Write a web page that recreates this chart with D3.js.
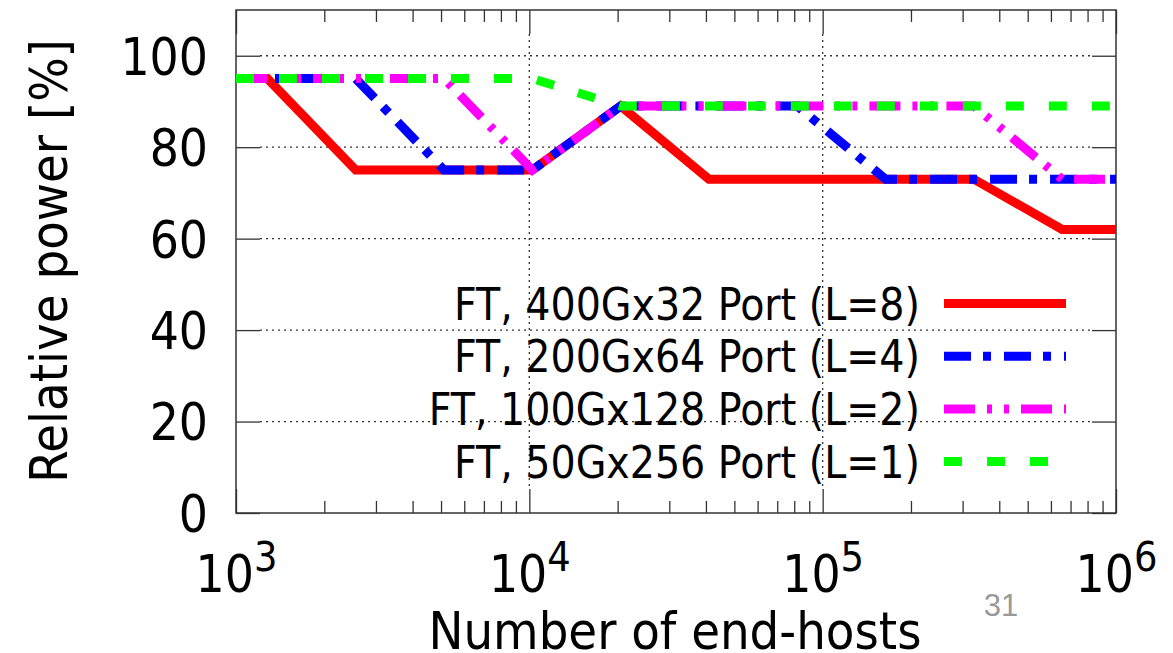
<!DOCTYPE html>
<html>
<head>
<meta charset="utf-8">
<script src="https://cdn.jsdelivr.net/npm/d3@7"></script>
<style>
  html, body { margin: 0; padding: 0; background: #fff; }
  svg text { font-family: "DejaVu Sans Condensed", "DejaVu Sans", sans-serif; font-stretch: condensed; fill: #000; }
  .axis path.domain { display: none; }
  .axis line { stroke: #333; stroke-width: 1.3; }
  .grid line { stroke: #333; stroke-width: 1.3; stroke-dasharray: 2, 4; }
</style>
</head>
<body>
<div class="chart"></div>
<script>
const WIDTH = 1173;
const HEIGHT = 653;
const LEFT = 236, RIGHT = 1116, TOP = 10, BOTTOM = 513;

// Number of end-hosts for each series
const RED_X = [1000, 1280, 2560, 10240, 20480, 40960, 327680, 655360, 1000000];
const RED_Y = [95, 95, 75, 75, 89, 73, 73, 62, 62];
const BLUE_X = [1000, 2560, 5120, 10240, 20480, 81920, 163840, 1000000];
const BLUE_Y = [95, 95, 75, 75, 89, 89, 73, 73];
const MAGENTA_X = [1000, 5120, 10240, 20480, 327680, 655360, 1000000];
const MAGENTA_Y = [95, 95, 75, 89, 89, 73, 73];
const GREEN_X = [1000, 10240, 20480, 1000000];
const GREEN_Y = [95, 95, 89, 89];

const LABELS = [
  "FT, 400Gx32 Port (L=8)",
  "FT, 200Gx64 Port (L=4)",
  "FT, 100Gx128 Port (L=2)",
  "FT, 50Gx256 Port (L=1)"
];
const X_TICKS = [1e3, 1e4, 1e5, 1e6];
const Y_TICKS = [0, 20, 40, 60, 80, 100];

const series = [
  { label: LABELS[0], xs: RED_X, ys: RED_Y, color: "#ff0000", dash: null },
  { label: LABELS[1], xs: BLUE_X, ys: BLUE_Y, color: "#0000ff", dash: "27,12,8,13" },
  { label: LABELS[2], xs: MAGENTA_X, ys: MAGENTA_Y, color: "#ff00ff", dash: "31,12,5,12,5,12" },
  { label: LABELS[3], xs: GREEN_X, ys: GREEN_Y, color: "#00ff00", dash: "18,25" }
];

const svg = d3.select(".chart").append("svg")
  .attr("width", WIDTH)
  .attr("height", HEIGHT);

svg.append("rect").attr("width", WIDTH).attr("height", HEIGHT).attr("fill", "#fff");

const xScale = d3.scaleLog().domain([1e3, 1e6]).range([LEFT, RIGHT]);
const yScale = d3.scaleLinear().domain([0, 110]).range([BOTTOM, TOP]);

// minor log ticks 2..9 x 10^k
const minorTicks = [];
for (let k = 3; k < 6; k++) {
  for (let m = 2; m < 10; m++) minorTicks.push(m * Math.pow(10, k));
}

const MAJOR = 24, MINOR = 12;

// Grid
svg.append("g").attr("class", "grid")
  .selectAll("line").data(Y_TICKS.slice(1)).enter().append("line")
  .attr("x1", LEFT + MAJOR).attr("x2", RIGHT - MAJOR)
  .attr("y1", d => yScale(d)).attr("y2", d => yScale(d));

svg.append("g").attr("class", "grid")
  .selectAll("line").data([1e4, 1e5]).enter().append("line")
  .attr("x1", d => xScale(d)).attr("x2", d => xScale(d))
  .attr("y1", TOP + MAJOR).attr("y2", BOTTOM - MAJOR);

// Ticks on all four sides
svg.append("g").attr("class", "axis")
  .attr("transform", `translate(${LEFT}, 0)`)
  .call(d3.axisRight(yScale).tickValues(Y_TICKS).tickSize(MAJOR).tickFormat(""));
svg.append("g").attr("class", "axis")
  .attr("transform", `translate(${RIGHT}, 0)`)
  .call(d3.axisLeft(yScale).tickValues(Y_TICKS).tickSize(MAJOR).tickFormat(""));
svg.append("g").attr("class", "axis")
  .attr("transform", `translate(0, ${BOTTOM})`)
  .call(d3.axisTop(xScale).tickValues(X_TICKS).tickSize(MAJOR).tickFormat(""));
svg.append("g").attr("class", "axis")
  .attr("transform", `translate(0, ${BOTTOM})`)
  .call(d3.axisTop(xScale).tickValues(minorTicks).tickSize(MINOR).tickFormat(""));
svg.append("g").attr("class", "axis")
  .attr("transform", `translate(0, ${TOP})`)
  .call(d3.axisBottom(xScale).tickValues(X_TICKS).tickSize(MAJOR).tickFormat(""));
svg.append("g").attr("class", "axis")
  .attr("transform", `translate(0, ${TOP})`)
  .call(d3.axisBottom(xScale).tickValues(minorTicks).tickSize(MINOR).tickFormat(""));

// Y tick labels
const yLabels = svg.append("g").attr("class", "axis")
  .attr("transform", `translate(${LEFT}, 0)`)
  .call(d3.axisLeft(yScale).tickValues(Y_TICKS).tickSize(0).tickPadding(28));
yLabels.selectAll("text")
  .attr("font-size", 51)
  .attr("dy", "0.36em");

// X tick labels: 10^k
const xLabels = svg.append("g").attr("class", "axis")
  .attr("transform", `translate(0, ${BOTTOM})`)
  .call(d3.axisBottom(xScale).tickValues(X_TICKS).tickSize(0).tickFormat(""));
xLabels.selectAll(".tick").append("text")
  .attr("y", 79)
  .attr("text-anchor", "middle")
  .attr("font-size", 51)
  .each(function(d) {
    const t = d3.select(this);
    t.append("tspan").text("10");
    t.append("tspan").attr("dy", -21).attr("font-size", 41).text(Math.round(Math.log10(d)));
  });

// Frame
svg.append("rect")
  .attr("x", LEFT).attr("y", TOP)
  .attr("width", RIGHT - LEFT).attr("height", BOTTOM - TOP)
  .attr("fill", "none").attr("stroke", "#333").attr("stroke-width", 1.5);

// Lines
const line = d3.line().x(d => xScale(d[0])).y(d => yScale(d[1]));

svg.append("g").attr("class", "lines")
  .selectAll("path").data(series).enter().append("path")
  .attr("d", s => line(s.xs.map((x, i) => [x, s.ys[i]])))
  .attr("fill", "none")
  .attr("stroke", s => s.color)
  .attr("stroke-width", 9)
  .attr("stroke-dasharray", s => s.dash)
  .attr("stroke-linecap", "butt");

// Legend
const legend = svg.append("g").attr("class", "legend")
  .selectAll("g").data(series).enter().append("g")
  .attr("transform", (_, i) => `translate(0, ${303.5 + i * 52.7})`);

legend.append("text")
  .attr("x", 920)
  .attr("y", 16)
  .attr("text-anchor", "end")
  .attr("font-size", 44)
  .text(s => s.label);

legend.append("line")
  .attr("x1", 944).attr("x2", 1066)
  .attr("y1", 0).attr("y2", 0)
  .attr("stroke", s => s.color)
  .attr("stroke-width", 9)
  .attr("stroke-dasharray", s => s.dash);

// Axis labels
svg.append("text")
  .attr("transform", "translate(67, 261) rotate(-90)")
  .attr("text-anchor", "middle")
  .attr("font-size", 52)
  .text("Relative power [%]");

svg.append("text")
  .attr("x", 675)
  .attr("y", 649)
  .attr("text-anchor", "middle")
  .attr("font-size", 52)
  .text("Number of end-hosts");

// slide number
svg.append("text")
  .attr("x", 1001)
  .attr("y", 616)
  .attr("text-anchor", "middle")
  .attr("font-size", 31)
  .style("font-family", "'Liberation Sans', Arial, sans-serif")
  .style("font-stretch", "normal")
  .style("fill", "#999")
  .text("31");
</script>
</body>
</html>
